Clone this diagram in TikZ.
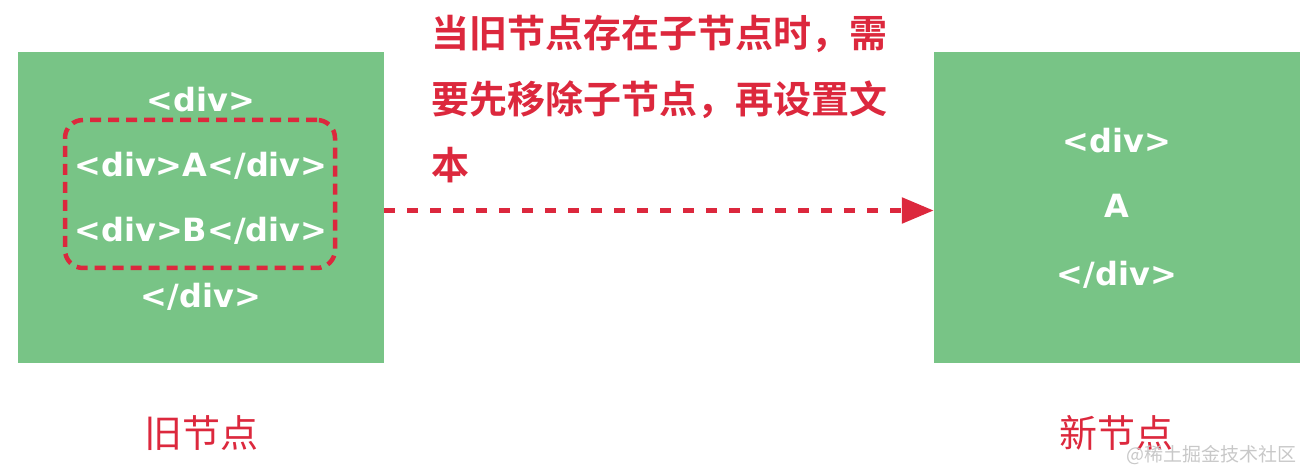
\documentclass[tikz,border=0pt]{standalone}
\usepackage{fontspec}
\setmainfont{Noto Sans CJK SC}[BoldFont={* Bold}]
\newfontfamily\tagfont{DejaVu Sans}
\usetikzlibrary{positioning,arrows.meta}
\definecolor{boxgreen}{HTML}{78C486}
\definecolor{notered}{HTML}{DC283D}
\definecolor{markgray}{HTML}{C8C8C8}

\begin{document}
\begin{tikzpicture}[x=1pt,y=-1pt,
  vbox/.style={fill=boxgreen, minimum width=366pt, minimum height=311pt, inner sep=0pt},
  tag/.style={text=white, font=\tagfont\bfseries\fontsize{32}{32}\selectfont},
  caption/.style={text=notered, font=\fontsize{38}{38}\selectfont},
  note/.style={text=notered, font=\bfseries\fontsize{38}{66}\selectfont, align=left}]
  \useasboundingbox (0,0) rectangle (1304,470);
  % old node
  \node[vbox] (old) at (201,207.5) {};
  \node[tag] (oldopen) at (201,100) {<div>};
  \node[tag] (childa) at (201,166) {<div>A</div>};
  \node[tag] (childb) at (201,231) {<div>B</div>};
  \node[tag] (oldclose) at (201,297) {</div>};
  \node[draw=notered, line width=4.5pt, dash pattern=on 11pt off 7pt,
    rounded corners=18pt, minimum width=270pt, minimum height=148pt] (children) at (200,194) {};
  % new node
  \node[vbox] (new) at (1117,207.5) {};
  \node[tag] (newopen) at (1117,141) {<div>};
  \node[tag] (newtext) at (1117,206) {A};
  \node[tag] (newclose) at (1117,275) {</div>};
  % arrow and note
  \draw[notered, line width=5.5pt, dash pattern=on 11pt off 12pt,
    -{Triangle[length=32pt,width=25pt]}] ([yshift=-3pt]old.east) -- ([yshift=-3pt]new.west);
  \node[note, anchor=north west] (why) at (428,12) {当旧节点存在子节点时，需\\要先移除子节点，再设置文\\本};
  \node[caption] (oldname) at (201,433) {旧节点};
  \node[caption] (newname) at (1116,433) {新节点};
  \node[text=markgray, font=\fontsize{19}{19}\selectfont, anchor=east] (mark) at (1300,455) {@稀土掘金技术社区};
\end{tikzpicture}
\end{document}
